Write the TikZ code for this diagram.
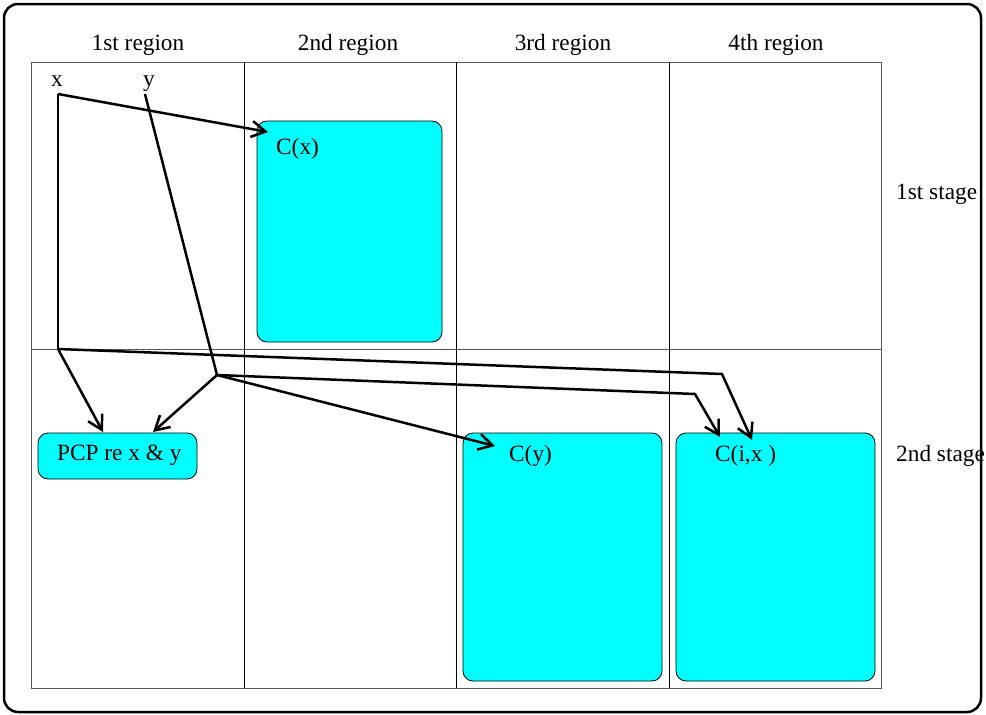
\documentclass[tikz,border=0pt]{standalone}
\usepackage{fontspec}
\setmainfont{Liberation Serif}
\usetikzlibrary{arrows.meta}
\definecolor{aqua}{RGB}{0,255,255}
\begin{document}
\begin{tikzpicture}[x=1pt,y=-1pt,
  font=\fontsize{23.3}{27}\selectfont,
  gridline/.style={draw=black!65, line width=1pt},
  colline/.style={draw=black, line width=1pt},
  box/.style={draw=black, fill=aqua, rounded corners=10pt, line width=0.8pt, inner sep=0pt, outer sep=0pt},
  wire/.style={line width=2.5pt, miter limit=20},
  conn/.style={wire, -{Straight Barb[length=14pt,width=16pt,line width=2.5pt]}},
  txt/.style={inner sep=0pt, anchor=base},
  ltxt/.style={inner sep=0pt, anchor=base west}]
\useasboundingbox (0,0) rectangle (986,715);
% outer frame
\draw[line width=2.5pt, rounded corners=14pt] (4,4) rectangle (981,712);
% grid
\draw[gridline] (31,62) rectangle (881,688);
\draw[gridline] (31,349) -- (881,349);
\draw[colline] (244,62) -- (244,688);
\draw[colline] (456,62) -- (456,688);
\draw[colline] (669,62) -- (669,688);
% headers
\node[txt] (h1) at (138,50) {1st region};
\node[txt] (h2) at (348,50) {2nd region};
\node[txt] (h3) at (563,50) {3rd region};
\node[txt] (h4) at (776,50) {4th region};
\node[ltxt] (s1) at (896,199) {1st stage};
\node[ltxt] (s2) at (896,461) {2nd stage};
% boxes
\node[box, minimum width=185pt, minimum height=221pt] (cx) at (349.5,231.5) {};
\node[box, minimum width=159pt, minimum height=46pt] (pcp) at (117.5,456) {};
\node[box, minimum width=199pt, minimum height=248pt] (cy) at (562.5,557) {};
\node[box, minimum width=199pt, minimum height=248pt] (cix) at (775.5,557) {};
\node[ltxt] (cxl) at (276,154) {C(x)};
\node[ltxt] (pcpl) at (57,460) {PCP re x \& y};
\node[ltxt] (cyl) at (509,461) {C(y)};
\node[ltxt] (cixl) at (715,461) {C(i,x )};
% variables
\node[txt] (xl) at (57,86) {x};
\node[txt] (yl) at (149,86) {y};
% junction coordinates
\coordinate (xs) at (58,94);
\coordinate (xj) at (58,349);
\coordinate (ys) at (145,94);
\coordinate (yj) at (217,375);
\coordinate (tcx) at (268,132);
\coordinate (tp1) at (103,432);
\coordinate (tp2) at (153,432);
\coordinate (tcy) at (495,446);
\coordinate (b1) at (722,374);
\coordinate (t1) at (752,440);
\coordinate (b2) at (695,394);
\coordinate (t2) at (720,437);
% connectors
\draw[conn] (xs) -- (tcx);
\draw[wire] (xs) -- (xj);
\draw[conn] (xj) -- (tp1);
\draw[conn] (xj) -- (b1) -- (t1);
\draw[wire] (ys) -- (yj);
\draw[conn] (yj) -- (tp2);
\draw[conn] (yj) -- (tcy);
\draw[conn] (yj) -- (b2) -- (t2);
\end{tikzpicture}
\end{document}
